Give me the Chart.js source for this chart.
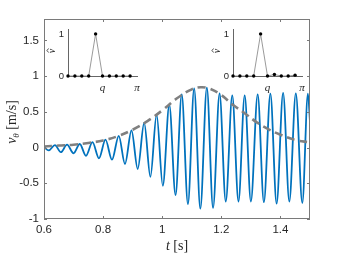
<!DOCTYPE html>
<html>
<head>
<meta charset="utf-8">
<script src="https://cdn.jsdelivr.net/npm/chart.js@4"></script>
<style>
    html, body { margin: 0; padding: 0; background: #fff; }
    #wrap { position: relative; width: 342px; height: 256px; }
    #wrap canvas { position: absolute; }
</style>
</head>
<body>
<div id="wrap">
    <canvas id="mainChart" width="342" height="256" style="left:0;top:0"></canvas>
    <canvas id="insetLeft" width="108" height="78" style="left:38px;top:20px"></canvas>
    <canvas id="insetRight" width="108" height="78" style="left:203px;top:20px"></canvas>
</div>
<script>
// ============================================
// v_theta response — main trace + two mode insets
// ============================================

const waveTimes = [
    0.600, 0.616, 0.637, 0.657, 0.678, 0.700, 0.721, 0.742, 0.764, 0.786,
    0.808, 0.830, 0.853, 0.874, 0.896, 0.917, 0.939, 0.960, 0.981, 1.002,
    1.024, 1.045, 1.066, 1.087, 1.108, 1.129, 1.151, 1.172, 1.194, 1.215,
    1.237, 1.258, 1.279, 1.300, 1.323, 1.344, 1.366, 1.387, 1.409, 1.430,
    1.452, 1.474, 1.493, 1.500
];
const waveValues = [
    0.01, -0.04, 0.035, -0.065, 0.04, -0.08, 0.05, -0.115, 0.075, -0.15,
    0.11, -0.17, 0.165, -0.23, 0.24, -0.30, 0.345, -0.41, 0.46, -0.535,
    0.60, -0.665, 0.745, -0.79, 0.83, -0.855, 0.84, -0.845, 0.76, -0.755,
    0.73, -0.755, 0.73, -0.755, 0.745, -0.765, 0.755, -0.785, 0.765, -0.755,
    0.76, -0.775, 0.755, 0.36
];

// grey dashed envelope
const envTimes = [
    0.60, 0.65, 0.70, 0.75, 0.80, 0.85, 0.90, 0.95, 1.00, 1.05, 1.10,
    1.13, 1.16, 1.20, 1.24, 1.28, 1.32, 1.36, 1.40, 1.45, 1.50
];
const envValues = [
    0.015, 0.028, 0.04, 0.065, 0.10, 0.16, 0.25, 0.37, 0.52, 0.69, 0.815,
    0.845, 0.825, 0.735, 0.595, 0.478, 0.353, 0.256, 0.18, 0.107, 0.072
];

const xTicks = [0.6, 0.8, 1, 1.2, 1.4];
const yTicks = [-1, -0.5, 0, 0.5, 1, 1.5];

// insets: mode amplitudes on [0, pi]
const modePositions = [0, 0.314, 0.628, 0.942, 1.257, 1.571, 1.885, 2.199, 2.513, 2.827];
const modeBefore = [0, 0, 0, 0, 1, 0, 0, 0, 0, 0];
const modeAfter  = [0, 0, 0, 0, 1, 0, 0.035, 0, 0, 0.02];
const insetXTicks = [Math.PI / 2, Math.PI];
const insetXLabels = ['q', 'π'];
const insetYTicks = [0, 1];

const SANS = "'Liberation Sans', Arial, sans-serif";
const SERIF = "'Liberation Serif', 'Times New Roman', serif";
const TXT = '#262626';
const AXIS = '#7a7a7a';

const toXY = (xs, ys) => xs.map((x, i) => ({ x: x, y: ys[i] }));

// box, inward ticks and the latex-ish axis labels
const mainFrame = {
    id: 'mainFrame',
    afterDraw(chart) {
        const { ctx, chartArea: a, scales } = chart;
        const L = 3;
        ctx.save();
        ctx.strokeStyle = AXIS;
        ctx.lineWidth = 1;
        ctx.strokeRect(a.left + 0.5, a.top + 0.5, a.right - a.left - 1, a.bottom - a.top - 1);
        ctx.beginPath();
        xTicks.forEach(v => {
            const px = Math.round(scales.x.getPixelForValue(v)) + 0.5;
            ctx.moveTo(px, a.bottom); ctx.lineTo(px, a.bottom - L);
            ctx.moveTo(px, a.top); ctx.lineTo(px, a.top + L);
        });
        yTicks.forEach(v => {
            const py = Math.round(scales.y.getPixelForValue(v)) + 0.5;
            ctx.moveTo(a.left, py); ctx.lineTo(a.left + L, py);
            ctx.moveTo(a.right, py); ctx.lineTo(a.right - L, py);
        });
        ctx.stroke();

        ctx.fillStyle = TXT;
        ctx.textBaseline = 'alphabetic';

        // x label: t [s]
        ctx.font = 'italic 14px ' + SERIF;
        const wt = ctx.measureText('t').width;
        ctx.font = '14px ' + SERIF;
        const ws = ctx.measureText(' [s]').width;
        let x0 = (a.left + a.right) / 2 - (wt + ws) / 2;
        ctx.font = 'italic 14px ' + SERIF;
        ctx.fillText('t', x0, 250);
        ctx.font = '14px ' + SERIF;
        ctx.fillText(' [s]', x0 + wt, 250);

        // y label: v_theta [m/s], rotated
        ctx.translate(16, 122);
        ctx.rotate(-Math.PI / 2);
        ctx.font = 'italic 14px ' + SERIF;
        const wv = ctx.measureText('v').width;
        ctx.font = 'italic 9px ' + SERIF;
        const wth = ctx.measureText('θ').width;
        ctx.font = '14px ' + SERIF;
        const wu = ctx.measureText(' [m/s]').width;
        let s = -(wv + wth + wu) / 2;
        ctx.font = 'italic 14px ' + SERIF;
        ctx.fillText('v', s, 0);
        ctx.font = 'italic 9px ' + SERIF;
        ctx.fillText('θ', s + wv, 3);
        ctx.font = '14px ' + SERIF;
        ctx.fillText(' [m/s]', s + wv + wth, 0);
        ctx.restore();
    }
};

new Chart(document.getElementById('mainChart').getContext('2d'), {
    type: 'line',
    data: {
        datasets: [
            {
                label: 'envelope',
                data: toXY(envTimes, envValues),
                borderColor: '#808080',
                borderWidth: 2.6,
                borderDash: [8, 5],
                pointRadius: 0,
                tension: 0.4,
                fill: false,
                order: 0
            },
            {
                label: 'v_theta',
                data: toXY(waveTimes, waveValues),
                borderColor: '#0072BD',
                borderWidth: 1.8,
                pointRadius: 0,
                cubicInterpolationMode: 'monotone',
                fill: false,
                order: 1
            }
        ]
    },
    options: {
        responsive: false,
        animation: false,
        devicePixelRatio: 1,
        layout: { padding: { left: 0, right: 32, top: 19, bottom: 0 } },
        plugins: { legend: { display: false }, tooltip: { enabled: false } },
        scales: {
            x: {
                type: 'linear',
                min: 0.6,
                max: 1.5,
                afterBuildTicks: s => { s.ticks = xTicks.map(v => ({ value: v })); },
                afterFit: s => { s.height = 37; },
                ticks: {
                    color: TXT,
                    font: { family: SANS, size: 11.5 },
                    padding: 4,
                    maxRotation: 0,
                    callback: v => String(parseFloat(v.toFixed(2)))
                },
                grid: { display: false, drawTicks: false, tickLength: 0 },
                border: { display: false }
            },
            y: {
                type: 'linear',
                min: -1,
                max: 1.8,
                afterBuildTicks: s => { s.ticks = yTicks.map(v => ({ value: v })); },
                afterFit: s => { s.width = 44; },
                ticks: {
                    color: TXT,
                    font: { family: SANS, size: 11.5 },
                    padding: 5,
                    callback: v => String(parseFloat(v.toFixed(2)))
                },
                grid: { display: false, drawTicks: false, tickLength: 0 },
                border: { display: false }
            }
        }
    },
    plugins: [mainFrame]
});

// small "v hat" label for the inset y axis
const insetLabel = {
    id: 'insetLabel',
    afterDraw(chart) {
        const ctx = chart.ctx;
        ctx.save();
        ctx.fillStyle = TXT;
        ctx.strokeStyle = TXT;
        ctx.translate(17, 31);
        ctx.rotate(-Math.PI / 2);
        ctx.font = 'italic 10px ' + SERIF;
        ctx.textAlign = 'center';
        ctx.fillText('v', 0, 0);
        ctx.lineWidth = 0.8;
        ctx.beginPath();
        ctx.moveTo(-1.6, -6.2);
        ctx.lineTo(0.6, -8.2);
        ctx.lineTo(2.4, -6.2);
        ctx.stroke();
        ctx.restore();
    }
};

function makeInset(id, values) {
    return new Chart(document.getElementById(id).getContext('2d'), {
        type: 'line',
        data: {
            datasets: [{
                data: toXY(modePositions, values),
                borderColor: '#808080',
                borderWidth: 0.8,
                pointRadius: 1.7,
                pointBackgroundColor: '#000',
                pointBorderColor: '#000',
                pointBorderWidth: 0,
                tension: 0,
                clip: false
            }]
        },
        options: {
            responsive: false,
            animation: false,
            devicePixelRatio: 1,
            layout: { padding: { left: 0, right: 9, top: 5, bottom: 0 } },
            plugins: { legend: { display: false }, tooltip: { enabled: false } },
            scales: {
                x: {
                    type: 'linear',
                    min: 0,
                    max: Math.PI,
                    afterBuildTicks: s => { s.ticks = insetXTicks.map(v => ({ value: v })); },
                    afterFit: s => { s.height = 22; },
                    ticks: {
                        color: TXT,
                        font: { family: SERIF, size: 11, style: 'italic' },
                        padding: 6,
                        maxRotation: 0,
                        autoSkip: false,
                        callback: (v, i) => insetXLabels[i]
                    },
                    grid: { display: false, drawTicks: false, tickLength: 0 },
                    border: { display: true, color: '#666', width: 1 }
                },
                y: {
                    type: 'linear',
                    min: 0,
                    max: 1.1,
                    afterBuildTicks: s => { s.ticks = insetYTicks.map(v => ({ value: v })); },
                    afterFit: s => { s.width = 30; },
                    ticks: {
                        color: TXT,
                        font: { family: SANS, size: 9.5 },
                        padding: 4
                    },
                    grid: { display: false, drawTicks: false, tickLength: 0 },
                    border: { display: true, color: '#666', width: 1 }
                }
            }
        },
        plugins: [insetLabel]
    });
}

makeInset('insetLeft', modeBefore);
makeInset('insetRight', modeAfter);
</script>
</body>
</html>
